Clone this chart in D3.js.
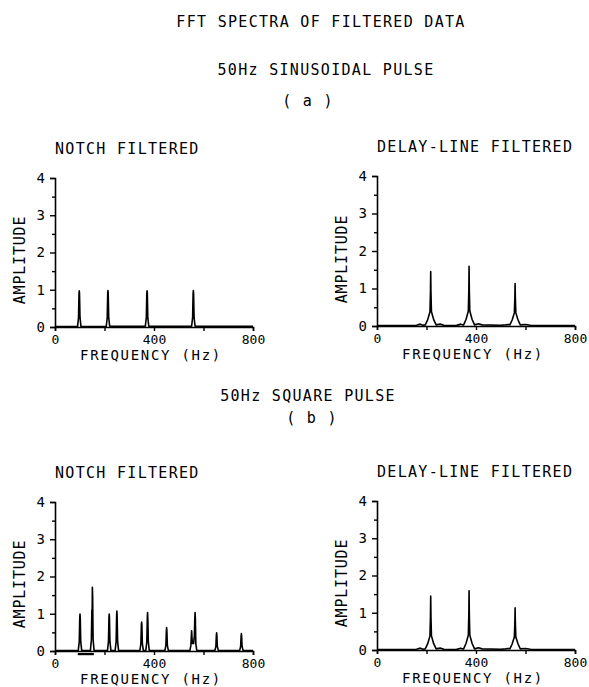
<!DOCTYPE html>
<html>
<head>
<meta charset="utf-8">
<script src="https://cdn.jsdelivr.net/npm/d3@7"></script>
<style>
  body { margin: 0; background: #fff; }
  svg text { font-family: "DejaVu Sans Mono", monospace; fill: #000; }
</style>
</head>
<body>
<div id="container"></div>
<script>
// spectra traces, [frequency Hz, amplitude]
let notchSine = [
  [0,0.01],[91,0.01],[95,0.25],[97,0.9],[98,0.97],[99,0.9],[101,0.25],[105,0.01],
  [207,0.01],[211,0.25],[213,0.9],[214,0.98],[215,0.9],[217,0.25],[221,0.02],[240,0.02],
  [365,0.02],[369,0.25],[371,0.9],[372,0.97],[373,0.9],[375,0.25],[379,0.02],
  [552,0.02],[556,0.25],[558,0.9],[559,0.98],[560,0.9],[562,0.25],[566,0.02],[800,0.02]
];

let notchSquare = [
  [0,0.01],[94,0.01],[98,0.25],[100,0.9],[101,0.99],[102,0.9],[104,0.25],[108,0.01],
  [143,0.01],[147,0.3],[149,1.1],[150,0.9],[151,1.71],[152,1.5],[154,0.3],[158,0.01],
  [212,0.01],[216,0.25],[218,0.9],[219,0.99],[220,0.9],[222,0.25],[226,0.01],
  [243,0.01],[247,0.25],[249,0.95],[250,1.07],[251,0.95],[253,0.25],[257,0.01],
  [343,0.01],[347,0.2],[349,0.7],[350,0.78],[351,0.7],[353,0.2],[357,0.01],
  [367,0.01],[371,0.25],[373,0.9],[374,1.03],[375,0.9],[377,0.25],[381,0.01],
  [444,0.01],[448,0.15],[450,0.55],[451,0.63],[452,0.55],[454,0.15],[458,0.01],
  [545,0.01],[549,0.15],[552,0.54],[555,0.2],[560,0.2],[563,0.4],[565,0.9],[566,1.03],[567,0.9],[569,0.2],[573,0.01],
  [646,0.01],[650,0.12],[652,0.42],[653,0.49],[654,0.42],[656,0.12],[660,0.01],
  [746,0.01],[750,0.12],[752,0.4],[753,0.47],[754,0.4],[756,0.12],[760,0.01],[800,0.01]
];

let delayLine = [
  [0,0.01],[120,0.01],[160,0.02],[175,0.05],[185,0.02],
  [195,0.03],[205,0.17],[214,0.38],[216,0.9],[217,1.45],[218,0.9],[220,0.38],[229,0.17],[239,0.03],
  [255,0.05],[270,0.02],[320,0.01],[338,0.05],[346,0.03],
  [350,0.03],[360,0.18],[369,0.4],[371,0.95],[372,1.59],[373,0.95],[375,0.4],[384,0.18],[394,0.03],
  [410,0.06],[425,0.03],[500,0.02],[520,0.03],[532,0.04],
  [537,0.03],[546,0.16],[555,0.35],[557,0.75],[558,1.13],[559,0.75],[561,0.35],[570,0.16],[579,0.03],
  [600,0.04],[620,0.02],[700,0.01],[800,0.01]
];

// underline marked on the square-pulse notch plot
let markedBand = [92, 157];

let xTicks = [0, 200, 400, 600, 800];
let xLabels = [0, 400, 800];
let yTicks = [0, 0.5, 1, 1.5, 2, 2.5, 3, 3.5, 4];

let width = 589, height = 687;

let svg = d3.select("#container")
  .append("svg")
    .attr("width", width)
    .attr("height", height);

function heading(txt, x, y, anchor) {
  svg.append("text")
    .attr("x", x).attr("y", y)
    .attr("text-anchor", anchor || "middle")
    .style("font-size", "15px")
    .style("letter-spacing", "1.3px")
    .text(txt);
}

heading("FFT SPECTRA OF FILTERED DATA", 321, 27);
heading("50Hz SINUSOIDAL PULSE", 326, 75);
heading("( a )", 308, 106);
heading("50Hz SQUARE PULSE", 308, 401);
heading("( b )", 312, 423);

let panels = [
  {title: "NOTCH FILTERED", x0: 55, x1: 253, y0: 327, y1: 178, data: notchSine},
  {title: "DELAY-LINE FILTERED", x0: 377, x1: 575, y0: 326, y1: 176, data: delayLine},
  {title: "NOTCH FILTERED", x0: 55, x1: 253, y0: 651, y1: 502, data: notchSquare, band: markedBand},
  {title: "DELAY-LINE FILTERED", x0: 377, x1: 575, y0: 650, y1: 501, data: delayLine}
];

panels.forEach(function(p) {
  let xScale = d3.scaleLinear().domain([0, 800]).range([p.x0, p.x1]);
  let yScale = d3.scaleLinear().domain([0, 4]).range([p.y0, p.y1]);

  heading(p.title, p.x0, p.y1 - 24, "start");

  // y axis
  let yAxis = d3.axisLeft(yScale)
    .tickValues(yTicks)
    .tickSizeOuter(0)
    .tickSize(5)
    .tickPadding(5)
    .tickFormat(d => Number.isInteger(d) ? d : "");
  let yg = svg.append("g")
    .attr("transform", "translate(" + p.x0 + ",0)")
    .call(yAxis);
  yg.selectAll(".tick line")
    .attr("x2", d => Number.isInteger(d) ? -5 : -3)
    .attr("stroke-width", 1.4);
  yg.select(".domain").attr("stroke-width", 1.6);
  yg.selectAll("text")
    .style("font-size", "14px")
    .style("font-family", "DejaVu Sans Mono, monospace");

  // x axis
  let xAxis = d3.axisBottom(xScale)
    .tickValues(xTicks)
    .tickSizeOuter(0)
    .tickSize(4)
    .tickPadding(3.5)
    .tickFormat(d => xLabels.includes(d) ? d : "");
  let xg = svg.append("g")
    .attr("transform", "translate(0," + p.y0 + ")")
    .call(xAxis);
  xg.select(".domain").attr("stroke-width", 1.6);
  xg.selectAll(".tick line").attr("stroke-width", 1.4);
  xg.selectAll("text")
    .style("font-size", "13px")
    .style("font-family", "DejaVu Sans Mono, monospace");

  // axis titles
  svg.append("text")
    .attr("transform", "translate(" + (p.x0 - 30) + "," + (p.y0 - 67) + ") rotate(-90)")
    .attr("text-anchor", "middle")
    .style("font-size", "15px")
    .style("letter-spacing", "0.8px")
    .text("AMPLITUDE");

  svg.append("text")
    .attr("x", (p.x0 + p.x1) / 2 - 3)
    .attr("y", p.y0 + 33)
    .attr("text-anchor", "middle")
    .style("font-size", "14px")
    .style("letter-spacing", "1.7px")
    .text("FREQUENCY (Hz)");

  // spectrum
  let line = d3.line()
    .x(d => xScale(d[0]))
    .y(d => yScale(d[1]));
  svg.append("path")
    .datum(p.data)
    .attr("d", line)
    .attr("fill", "none")
    .attr("stroke", "#000")
    .attr("stroke-width", 1.6)
    .attr("stroke-linejoin", "round");

  if (p.band) {
    svg.append("rect")
      .attr("x", xScale(p.band[0]))
      .attr("width", xScale(p.band[1]) - xScale(p.band[0]))
      .attr("y", p.y0 + 2)
      .attr("height", 2.2)
      .attr("fill", "#000");
  }
});
</script>
</body>
</html>
